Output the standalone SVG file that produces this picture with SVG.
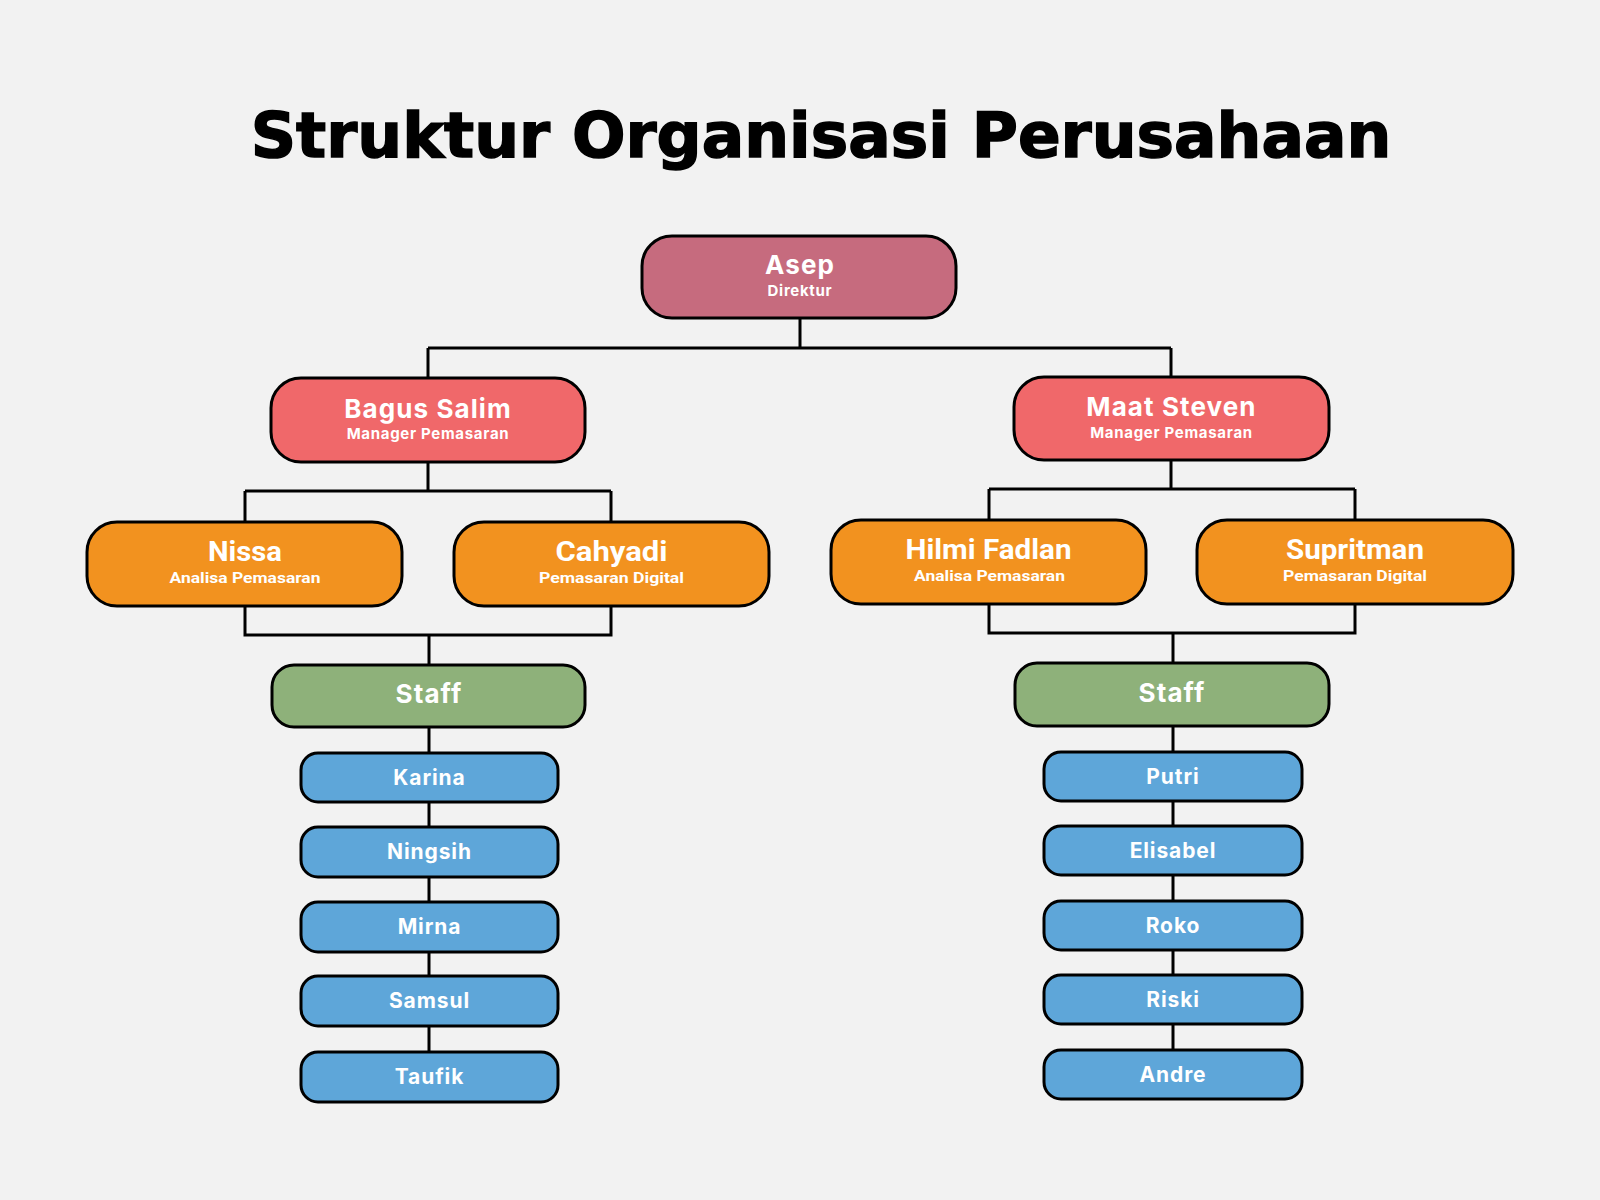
<svg xmlns="http://www.w3.org/2000/svg" width="1600" height="1200" viewBox="0 0 1600 1200">
<style>
.bg{fill:#F2F2F2}
.n{stroke:#000;stroke-width:3}
.dir{fill:#C66B7E}
.mgr{fill:#F0686A}
.ana{fill:#F2921F}
.stf{fill:#8EB17A}
.emp{fill:#5EA6D9}
.c{fill:none;stroke:#000;stroke-width:3}
.t{fill:#fff;font-family:Inter,"Liberation Sans",sans-serif;font-weight:700;text-anchor:middle}
.big{font-size:26px;letter-spacing:1.1px}
.sub{font-size:15px;letter-spacing:0.7px}
.cond{fill:#fff;font-family:"Roboto","Liberation Sans",sans-serif;font-weight:700;text-anchor:middle}
.emt{font-size:21px;letter-spacing:0.9px}
.title{font-family:"DejaVu Sans",sans-serif;font-weight:700;font-size:63px;text-anchor:middle;fill:#000;stroke:#000;stroke-width:1.5}
</style>
<rect class="bg" x="0" y="0" width="1600" height="1200"/>
<text class="title" x="821" y="157">Struktur Organisasi Perusahaan</text>
<g id="connectors">
<path class="c" d="M800,318V348M428,348H1171M428,348V378M1171,348V377"/>
<path class="c" d="M428,462V491M245,491H611M245,491V522M611,491V522"/>
<path class="c" d="M245,606V635H611V606M429,635V665"/>
<path class="c" d="M429,727V1052"/>
<path class="c" d="M1171,460V489M989,489H1355M989,489V520M1355,489V520"/>
<path class="c" d="M989,604V633H1355V604M1173,633V663"/>
<path class="c" d="M1173,726V1050"/>
</g>
<g id="asep"><rect class="n dir" x="642" y="236" width="314" height="82" rx="30"/><text class="t big" x="800" y="274">Asep</text><text class="t sub" x="800" y="296">Direktur</text></g>
<g id="bagus"><rect class="n mgr" x="271" y="378" width="314" height="84" rx="30"/><text class="t big" x="428" y="418">Bagus Salim</text><text class="t sub" x="428" y="439">Manager Pemasaran</text></g>
<g id="maat"><rect class="n mgr" x="1014" y="377" width="315" height="83" rx="30"/><text class="t big" x="1171.5" y="416">Maat Steven</text><text class="t sub" x="1171.5" y="437.5">Manager Pemasaran</text></g>
<g id="nissa"><rect class="n ana" x="87" y="522" width="315" height="84" rx="30"/><text class="cond" x="245" y="561" font-size="27" textLength="74" lengthAdjust="spacingAndGlyphs">Nissa</text><text class="cond" x="245" y="583" font-size="15.5" textLength="151" lengthAdjust="spacingAndGlyphs">Analisa Pemasaran</text></g>
<g id="cahyadi"><rect class="n ana" x="454" y="522" width="315" height="84" rx="30"/><text class="cond" x="611.5" y="561" font-size="27" textLength="112" lengthAdjust="spacingAndGlyphs">Cahyadi</text><text class="cond" x="611.5" y="583" font-size="15.5" textLength="145" lengthAdjust="spacingAndGlyphs">Pemasaran Digital</text></g>
<g id="hilmi"><rect class="n ana" x="831" y="520" width="315" height="84" rx="30"/><text class="cond" x="988.5" y="559" font-size="27" textLength="166" lengthAdjust="spacingAndGlyphs">Hilmi Fadlan</text><text class="cond" x="989.5" y="580.5" font-size="15.5" textLength="151" lengthAdjust="spacingAndGlyphs">Analisa Pemasaran</text></g>
<g id="supritman"><rect class="n ana" x="1197" y="520" width="316" height="84" rx="30"/><text class="cond" x="1355" y="559" font-size="27" textLength="138" lengthAdjust="spacingAndGlyphs">Supritman</text><text class="cond" x="1355" y="580.5" font-size="15.5" textLength="144" lengthAdjust="spacingAndGlyphs">Pemasaran Digital</text></g>
<g id="staff-left"><rect class="n stf" x="272" y="665" width="313" height="62" rx="22"/><text class="t big" x="429" y="703">Staff</text></g>
<g id="staff-right"><rect class="n stf" x="1015" y="663" width="314" height="63" rx="22"/><text class="t big" x="1172" y="702">Staff</text></g>
<g id="karina"><rect class="n emp" x="301" y="753" width="257" height="49" rx="17"/><text class="t emt" x="429.5" y="785">Karina</text></g>
<g id="ningsih"><rect class="n emp" x="301" y="827" width="257" height="50" rx="17"/><text class="t emt" x="429.5" y="859">Ningsih</text></g>
<g id="mirna"><rect class="n emp" x="301" y="902" width="257" height="50" rx="17"/><text class="t emt" x="429.5" y="934">Mirna</text></g>
<g id="samsul"><rect class="n emp" x="301" y="976" width="257" height="50" rx="17"/><text class="t emt" x="429.5" y="1008">Samsul</text></g>
<g id="taufik"><rect class="n emp" x="301" y="1052" width="257" height="50" rx="17"/><text class="t emt" x="429.5" y="1084">Taufik</text></g>
<g id="putri"><rect class="n emp" x="1044" y="752" width="258" height="49" rx="17"/><text class="t emt" x="1173" y="784">Putri</text></g>
<g id="elisabel"><rect class="n emp" x="1044" y="826" width="258" height="49" rx="17"/><text class="t emt" x="1173" y="858">Elisabel</text></g>
<g id="roko"><rect class="n emp" x="1044" y="901" width="258" height="49" rx="17"/><text class="t emt" x="1173" y="933">Roko</text></g>
<g id="riski"><rect class="n emp" x="1044" y="975" width="258" height="49" rx="17"/><text class="t emt" x="1173" y="1007">Riski</text></g>
<g id="andre"><rect class="n emp" x="1044" y="1050" width="258" height="49" rx="17"/><text class="t emt" x="1173" y="1082">Andre</text></g>
</svg>
